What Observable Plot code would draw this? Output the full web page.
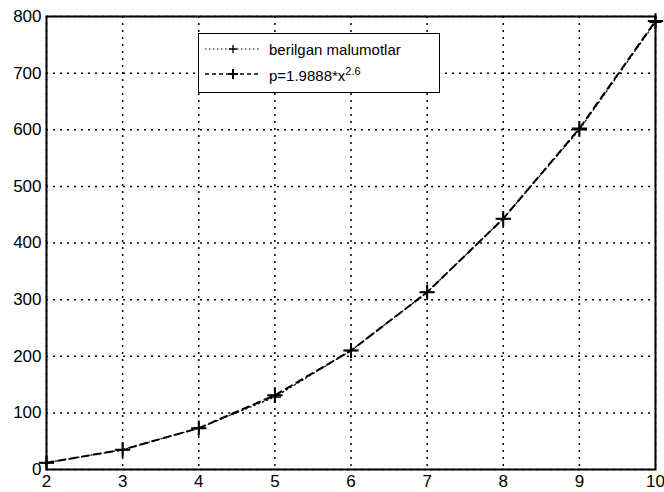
<!DOCTYPE html>
<html><head><meta charset="utf-8">
<script src="https://cdn.jsdelivr.net/npm/d3@7"></script>
<script src="https://cdn.jsdelivr.net/npm/@observablehq/plot@0.6"></script>
<style>
body{margin:0;background:#fff}
#wrap{position:relative;width:664px;height:492px}
#legend{position:absolute;left:198px;top:33px;width:240px;height:58px;border:1.5px solid #000;background:#fff;font-family:"Liberation Sans",Arial,sans-serif;font-size:15px;color:#000}
.row{position:absolute;left:6px;height:20px;display:flex;align-items:center}
.row span{margin-left:8px}
</style></head>
<body><div id="wrap"></div>
<script>
const xs = [2, 3, 4, 5, 6, 7, 8, 9, 10];
const givenY = [12, 35, 73, 128, 210, 313, 443, 600, 790];
const fitY = [12, 35, 73, 131, 210, 313, 443, 602, 792];
const xTicks = [2, 3, 4, 5, 6, 7, 8, 9, 10];
const yTicks = [0, 100, 200, 300, 400, 500, 600, 700, 800];
const seriesNames = ["berilgan malumotlar", "p=1.9888*x^2.6"];

const given = xs.map((x, i) => ({x, y: givenY[i]}));
const fit = xs.map((x, i) => ({x, y: fitY[i]}));

const chart = Plot.plot({
  width: 664, height: 492,
  marginLeft: 46, marginRight: 9, marginTop: 16, marginBottom: 23,
  style: {fontFamily: "'Liberation Sans', Arial, sans-serif", fontSize: "16px", background: "#fff", color: "#000", overflow: "visible"},
  x: {domain: [2, 10], ticks: xTicks, tickFormat: d => String(d), label: null},
  y: {domain: [0, 800], ticks: yTicks, tickFormat: d => String(d), label: null},
  marks: [
    Plot.ruleX(xTicks, {stroke: "#000", strokeWidth: 1.5, strokeDasharray: "2,5"}),
    Plot.ruleY(yTicks, {stroke: "#000", strokeWidth: 1.5, strokeDasharray: "2,5"}),
    Plot.axisX({ticks: xTicks, tickSize: 0, tickPadding: 5, fontSize: 17, tickFormat: d => String(d)}),
    Plot.axisY({ticks: yTicks, tickSize: 0, tickPadding: 5, fontSize: 17, tickFormat: d => String(d)}),
    Plot.line(given, {x: "x", y: "y", stroke: "#000", strokeWidth: 1.2, strokeDasharray: "1.5,3"}),
    Plot.line(fit, {x: "x", y: "y", stroke: "#000", strokeWidth: 2, strokeDasharray: "7,5"}),
    Plot.dot(given, {x: "x", y: "y", symbol: "plus", r: 4, stroke: "#000", strokeWidth: 1.5}),
    Plot.dot(fit, {x: "x", y: "y", symbol: "plus", r: 5, stroke: "#000", strokeWidth: 2}),
    Plot.frame({stroke: "#000", strokeWidth: 2})
  ]
});
const wrap = document.getElementById("wrap");
wrap.appendChild(chart);

const legend = document.createElement("div");
legend.id = "legend";
legend.innerHTML = `
<div class="row" style="top:5px"><svg width="56" height="12"><line x1="0" y1="6" x2="56" y2="6" stroke="#000" stroke-width="1.2" stroke-dasharray="1.5,2.5"/><path d="M24,6h8M28,2v8" stroke="#000" stroke-width="1.3"/></svg><span>${seriesNames[0]}</span></div>
<div class="row" style="top:30px"><svg width="56" height="12"><line x1="0" y1="6" x2="56" y2="6" stroke="#000" stroke-width="1.6" stroke-dasharray="4,3"/><path d="M23,6h10M28,1v10" stroke="#000" stroke-width="2"/></svg><span>p=1.9888*x<sup style="font-size:11px">2.6</sup></span></div>`;
wrap.appendChild(legend);
</script>
</body></html>
